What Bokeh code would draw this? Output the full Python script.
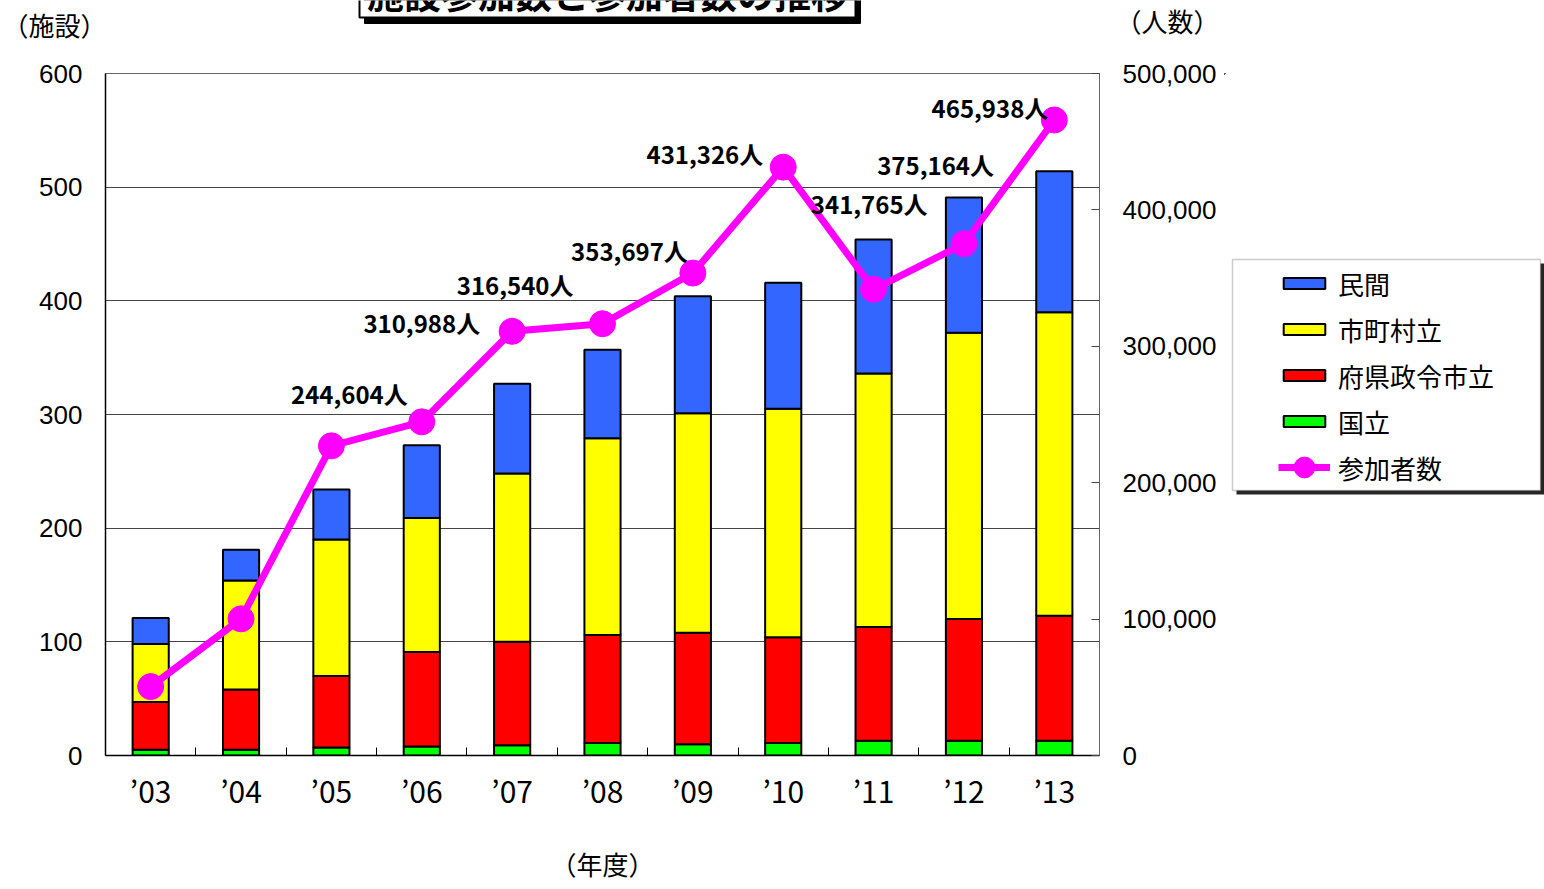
from bokeh.plotting import figure
from bokeh.layouts import column, row
from bokeh.models import (ColumnDataSource, Range1d, LinearAxis, FixedTicker, NumeralTickFormatter,
                          Legend, LegendItem, BoxAnnotation, CustomJSTickFormatter)
from bokeh.core.properties import value
from bokeh.embed import file_html
from bokeh.resources import INLINE

# ---- data ----
years = ["’03", "’04", "’05", "’06", "’07", "’08", "’09", "’10", "’11", "’12", "’13"]
kokuritsu = [5, 5, 7, 8, 9, 11, 10, 11, 13, 13, 13]                # 国立
fuken = [42, 53, 63, 83, 91, 95, 98, 93, 100, 107, 110]             # 府県政令市立
shichoson = [51, 96, 120, 118, 148, 173, 193, 201, 223, 252, 267]   # 市町村立
minkan = [23, 27, 44, 64, 79, 78, 103, 111, 118, 119, 124]          # 民間
participants = [50500, 100200, 227000, 244604, 310988, 316540, 353697, 431326, 341765, 375164, 465938]
left_ticks = [0, 100, 200, 300, 400, 500, 600]
right_ticks = [0, 100000, 200000, 300000, 400000, 500000]
series_names = ["国立", "府県政令市立", "市町村立", "民間"]
line_name = "参加者数"
title_text = "施設参加数と参加者数の推移"

# label placement (screen px, relative to the marker) - style only
label_dx = [None, None, None, -14, -32, -29, -5, -20, 54, 30, -6]
label_dy = [None, None, None, -28, -9, -39, -23, -14, -86, -79, -12]

JP = "Noto Sans CJK JP"
NUM = "Liberation Sans"
colors = ["#00FF00", "#FF0000", "#FFFF00", "#3366FF"]
MAGENTA = "#FF00FF"

W, H = 1544, 889
TOP_H = 50
MAIN_W = 1224
FRAME_L, FRAME_R, FRAME_T, FRAME_B = 105, 1099, 73, 755


def bare(fig):
    fig.outline_line_color = None
    fig.xgrid.visible = False
    fig.ygrid.visible = False
    fig.background_fill_color = "white"
    fig.border_fill_color = "white"
    return fig


# ---------- top strip (title, unit labels) ----------
pt = bare(figure(width=W, height=TOP_H, output_backend="svg", toolbar_location=None,
                 x_range=Range1d(0, W), y_range=Range1d(TOP_H, 0),
                 x_axis_type=None, y_axis_type=None,
                 min_border=0, min_border_left=0, min_border_right=0,
                 min_border_top=0, min_border_bottom=0))
pt.quad(left=[364], right=[860], top=[-40], bottom=[23], fill_color="black", line_color="black")
pt.quad(left=[359], right=[855], top=[-40], bottom=[17], fill_color="white",
        line_color="black", line_width=2)
pt.text(x=[607], y=[-8], text=[title_text], text_align="center", text_baseline="middle",
        text_font=value(JP), text_font_size="37px", text_font_style="bold", text_color="black")
pt.text(x=[54, 1167], y=[24, 20], text=["（施設）", "（人数）"], text_align="center",
        text_baseline="middle", text_font=value(JP), text_font_size="26px", text_color="black")

# ---------- main chart ----------
xs = list(range(1, len(years) + 1))
bounds = [i + 0.5 for i in xs[:-1]]
src = ColumnDataSource(dict(x=xs, kokuritsu=kokuritsu, fuken=fuken, shichoson=shichoson,
                            minkan=minkan, ppl=participants))

MAIN_H = H - TOP_H
p = figure(width=MAIN_W, height=MAIN_H, output_backend="svg", toolbar_location=None,
           x_range=Range1d(0.5, len(years) + 0.5), y_range=Range1d(0, 600),
           min_border_left=FRAME_L, min_border_right=MAIN_W - FRAME_R,
           min_border_top=FRAME_T - TOP_H, min_border_bottom=H - FRAME_B)
p.extra_y_ranges = {"ppl": Range1d(0, 500000)}
p.outline_line_color = "#666666"
p.outline_line_width = 1
p.background_fill_color = "white"
p.border_fill_color = "white"

p.xgrid.visible = False
p.ygrid.grid_line_color = "#444444"
p.ygrid.grid_line_width = 1
p.ygrid.ticker = FixedTicker(ticks=left_ticks)

p.yaxis.ticker = FixedTicker(ticks=left_ticks)
p.yaxis.axis_line_color = "black"
p.yaxis.axis_line_width = 1.5
p.yaxis.major_tick_out = 0
p.yaxis.major_tick_in = 0
p.yaxis.minor_tick_line_color = None
p.yaxis.major_label_standoff = 23
p.yaxis.major_label_text_font = NUM
p.yaxis.major_label_text_font_size = "26px"
p.yaxis.major_label_text_color = "black"

p.xaxis.ticker = FixedTicker(ticks=xs, minor_ticks=bounds)
p.xaxis.formatter = CustomJSTickFormatter(args=dict(labels=years),
                                          code="return labels[Math.round(tick) - 1];")
p.xaxis.axis_line_color = "black"
p.xaxis.axis_line_width = 1.5
p.xaxis.major_tick_line_color = None
p.xaxis.minor_tick_line_color = "black"
p.xaxis.minor_tick_in = 8
p.xaxis.minor_tick_out = 0
p.xaxis.major_label_standoff = 6
p.xaxis.major_label_text_font = JP
p.xaxis.major_label_text_font_size = "30px"
p.xaxis.major_label_text_color = "black"
p.xaxis.axis_label = "（年度）"
p.xaxis.axis_label_text_font = JP
p.xaxis.axis_label_text_font_size = "26px"
p.xaxis.axis_label_text_font_style = "normal"
p.xaxis.axis_label_text_color = "black"
p.xaxis.axis_label_standoff = 30

ax_r = LinearAxis(y_range_name="ppl", ticker=FixedTicker(ticks=right_ticks),
                  formatter=NumeralTickFormatter(format="0,0"))
ax_r.axis_line_color = "#666666"
ax_r.major_tick_in = 8
ax_r.major_tick_out = 0
ax_r.major_tick_line_color = "#444444"
ax_r.minor_tick_line_color = None
ax_r.major_label_standoff = 23
ax_r.major_label_text_font = NUM
ax_r.major_label_text_font_size = "26px"
ax_r.major_label_text_color = "black"
p.add_layout(ax_r, "right")

stack_cols = ["kokuritsu", "fuken", "shichoson", "minkan"]
p.vbar_stack(stack_cols, x="x", width=0.4, source=src, fill_color=colors,
             line_color="black", line_width=2)
p.line("x", "ppl", source=src, y_range_name="ppl", line_color=MAGENTA, line_width=7)
p.scatter("x", "ppl", source=src, y_range_name="ppl", size=26, marker="circle",
          fill_color=MAGENTA, line_color=MAGENTA)

lab_idx = [i for i in range(len(years)) if label_dx[i] is not None]
lab_src = ColumnDataSource(dict(
    x=[xs[i] for i in lab_idx],
    y=[participants[i] for i in lab_idx],
    t=[f"{participants[i]:,}人" for i in lab_idx],
    dx=[label_dx[i] for i in lab_idx],
    dy=[label_dy[i] for i in lab_idx],
))
p.text("x", "y", text="t", source=lab_src, y_range_name="ppl", x_offset="dx", y_offset="dy",
       text_align="right", text_baseline="middle", text_font=value(JP),
       text_font_size="24px", text_font_style="bold", text_color="black")

# ---------- legend panel (its frame is aligned with the main frame) ----------
LW = W - MAIN_W
pl = bare(figure(width=LW, height=MAIN_H, output_backend="svg", toolbar_location=None,
                 x_range=Range1d(MAIN_W, W), y_range=Range1d(FRAME_B, FRAME_T),
                 x_axis_type=None, y_axis_type=None,
                 min_border=0, min_border_left=0, min_border_right=0,
                 min_border_top=0, min_border_bottom=0))
pl.add_layout(BoxAnnotation(left=1236, right=1544, top=263, bottom=494,
                            fill_color="black", fill_alpha=0.85, line_color=None))
pl.add_layout(BoxAnnotation(left=1232, right=1540, top=259, bottom=490,
                            fill_color="white", fill_alpha=1.0, line_color="#555555", line_width=1.5))
# legend swatches only (positioned outside this panel's range, so only the legend shows them)
leg_r = []
for c in colors:
    leg_r.append(pl.vbar(x=[-500], top=[-500], bottom=[-501], width=1, fill_color=c,
                         line_color="black", line_width=2))
lr = pl.line(x=[-500, -499], y=[-500, -500], line_color=MAGENTA, line_width=7)
sr = pl.scatter(x=[-500], y=[-500], size=24, marker="circle", fill_color=MAGENTA, line_color=MAGENTA)

bar_items = [LegendItem(label=series_names[i], renderers=[leg_r[i]]) for i in (3, 2, 1, 0)]
legend_bars = Legend(items=bar_items, location=(1278 - MAIN_W, FRAME_B - 440), padding=0, margin=0,
                     spacing=8, glyph_width=52, glyph_height=14, label_height=38, label_standoff=8,
                     label_text_font=JP, label_text_font_size="26px", label_text_color="black",
                     background_fill_alpha=0, border_line_color=None)
pl.add_layout(legend_bars)
legend_line = Legend(items=[LegendItem(label=line_name, renderers=[lr, sr])],
                     location=(1278 - MAIN_W, FRAME_B - 497), padding=0, margin=0,
                     glyph_width=52, glyph_height=60, label_height=60, label_standoff=8,
                     label_text_font=JP, label_text_font_size="26px", label_text_color="black",
                     background_fill_alpha=0, border_line_color=None)
pl.add_layout(legend_line)

layout = column(pt, row(p, pl, spacing=0), spacing=0)
open("out.html", "w").write(file_html(layout, INLINE))
